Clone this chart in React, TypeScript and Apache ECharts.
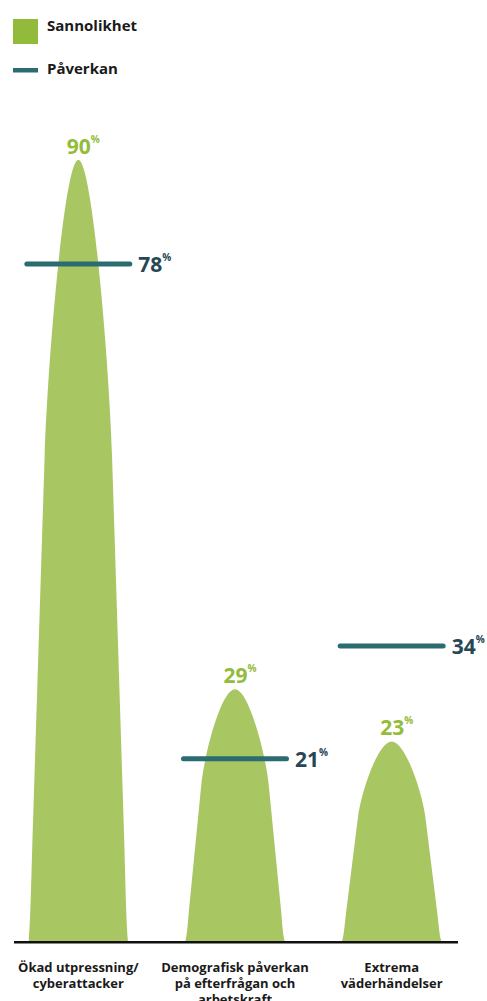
import React, { useEffect, useRef } from "react";
import * as echarts from "echarts";

const categories = [
  "Ökad utpressning/\ncyberattacker",
  "Demografisk påverkan\npå efterfrågan och\narbetskraft",
  "Extrema\nväderhändelser",
];
const sannolikhet = [90, 29, 23];
const paverkan = [78, 21, 34];
const seriesNames = ["Sannolikhet", "Påverkan"];

const GREEN = "#a8c762";
const GREEN_TEXT = "#93bc3a";
const LEGEND_GREEN = "#93bb3b";
const TEAL = "#2b6c71";
const DARK_TEXT = "#284755";
const FONT = "'Open Sans', sans-serif";

const bellPath =
  "path://M0,100 C2,97 2.5,92 4,86 L16,38 C19,26 36,0 50,0 C64,0 81,26 84,38 L96,86 C97.5,92 98,97 100,100 Z";
const linePath =
  "path://M2.5,0L105.5,0A2.5,2.5,0,0,1,105.5,5L2.5,5A2.5,2.5,0,0,1,2.5,0Z";

export default function App() {
  const ref = useRef<HTMLDivElement>(null);
  useEffect(() => {
    document.body.style.margin = "0";
    const chart = echarts.init(ref.current!, null, { renderer: "svg" });
    chart.setOption({
      animation: false,
      textStyle: { fontFamily: FONT },
      grid: { left: 0, right: 17, top: 73, bottom: 60, containLabel: false, outerBoundsMode: "none" },
      xAxis: {
        type: "category",
        data: categories,
        axisLine: { show: false },
        axisTick: { show: false },
        axisLabel: {
          margin: 18,
          fontSize: 13,
          fontWeight: "bold",
          color: "#1a1a1a",
          lineHeight: 16,
          fontFamily: FONT,
          interval: 0,
          hideOverlap: false,
        },
      },
      yAxis: {
        type: "value",
        min: 0,
        max: 100,
        show: false,
        splitLine: { show: false },
      },
      graphic: [
        { type: "rect", left: 13, top: 19, shape: { width: 25, height: 25 }, style: { fill: LEGEND_GREEN } },
        {
          type: "text",
          left: 47,
          top: 17,
          style: { text: seriesNames[0], font: `bold 15px ${FONT}`, fill: "#1a1a1a" },
        },
        { type: "rect", left: 13, top: 68, shape: { width: 25, height: 4.5 }, style: { fill: TEAL } },
        {
          type: "text",
          left: 47,
          top: 60,
          style: { text: seriesNames[1], font: `bold 15px ${FONT}`, fill: "#1a1a1a" },
        },
        { type: "rect", left: 14, top: 941, shape: { width: 444, height: 2.5 }, style: { fill: "#111" }, z: 10 },
      ],
      series: [
        {
          name: seriesNames[0],
          type: "pictorialBar",
          data: sannolikhet,
          symbol: bellPath,
          symbolSize: ["100%", "100%"],
          barWidth: 99,
          itemStyle: { color: GREEN, opacity: 1 },
          label: {
            show: true,
            position: "top",
            distance: 2,
            offset: [5, 0],
            formatter: (p: any) => `{v|${p.value}}{p|%}`,
            rich: {
              v: { fontSize: 21, fontWeight: "bold", color: GREEN_TEXT, fontFamily: FONT, lineHeight: 24 },
              p: { fontSize: 10, fontWeight: "bold", color: GREEN_TEXT, fontFamily: FONT, verticalAlign: "top", lineHeight: 14 },
            },
          },
          z: 2,
        },
        {
          name: seriesNames[1],
          type: "scatter",
          data: paverkan,
          symbol: linePath,
          symbolSize: [108, 5],
          itemStyle: { color: TEAL, opacity: 1 },
          label: {
            show: true,
            position: "right",
            distance: 6,
            formatter: (p: any) => `{v|${p.value}}{p|%}`,
            rich: {
              v: { fontSize: 21, fontWeight: "bold", color: DARK_TEXT, fontFamily: FONT, lineHeight: 24 },
              p: { fontSize: 10, fontWeight: "bold", color: DARK_TEXT, fontFamily: FONT, verticalAlign: "top", lineHeight: 14 },
            },
          },
          z: 5,
        },
      ],
    });
    return () => chart.dispose();
  }, []);
  return <div ref={ref} style={{ width: 487, height: 1001 }} />;
}
